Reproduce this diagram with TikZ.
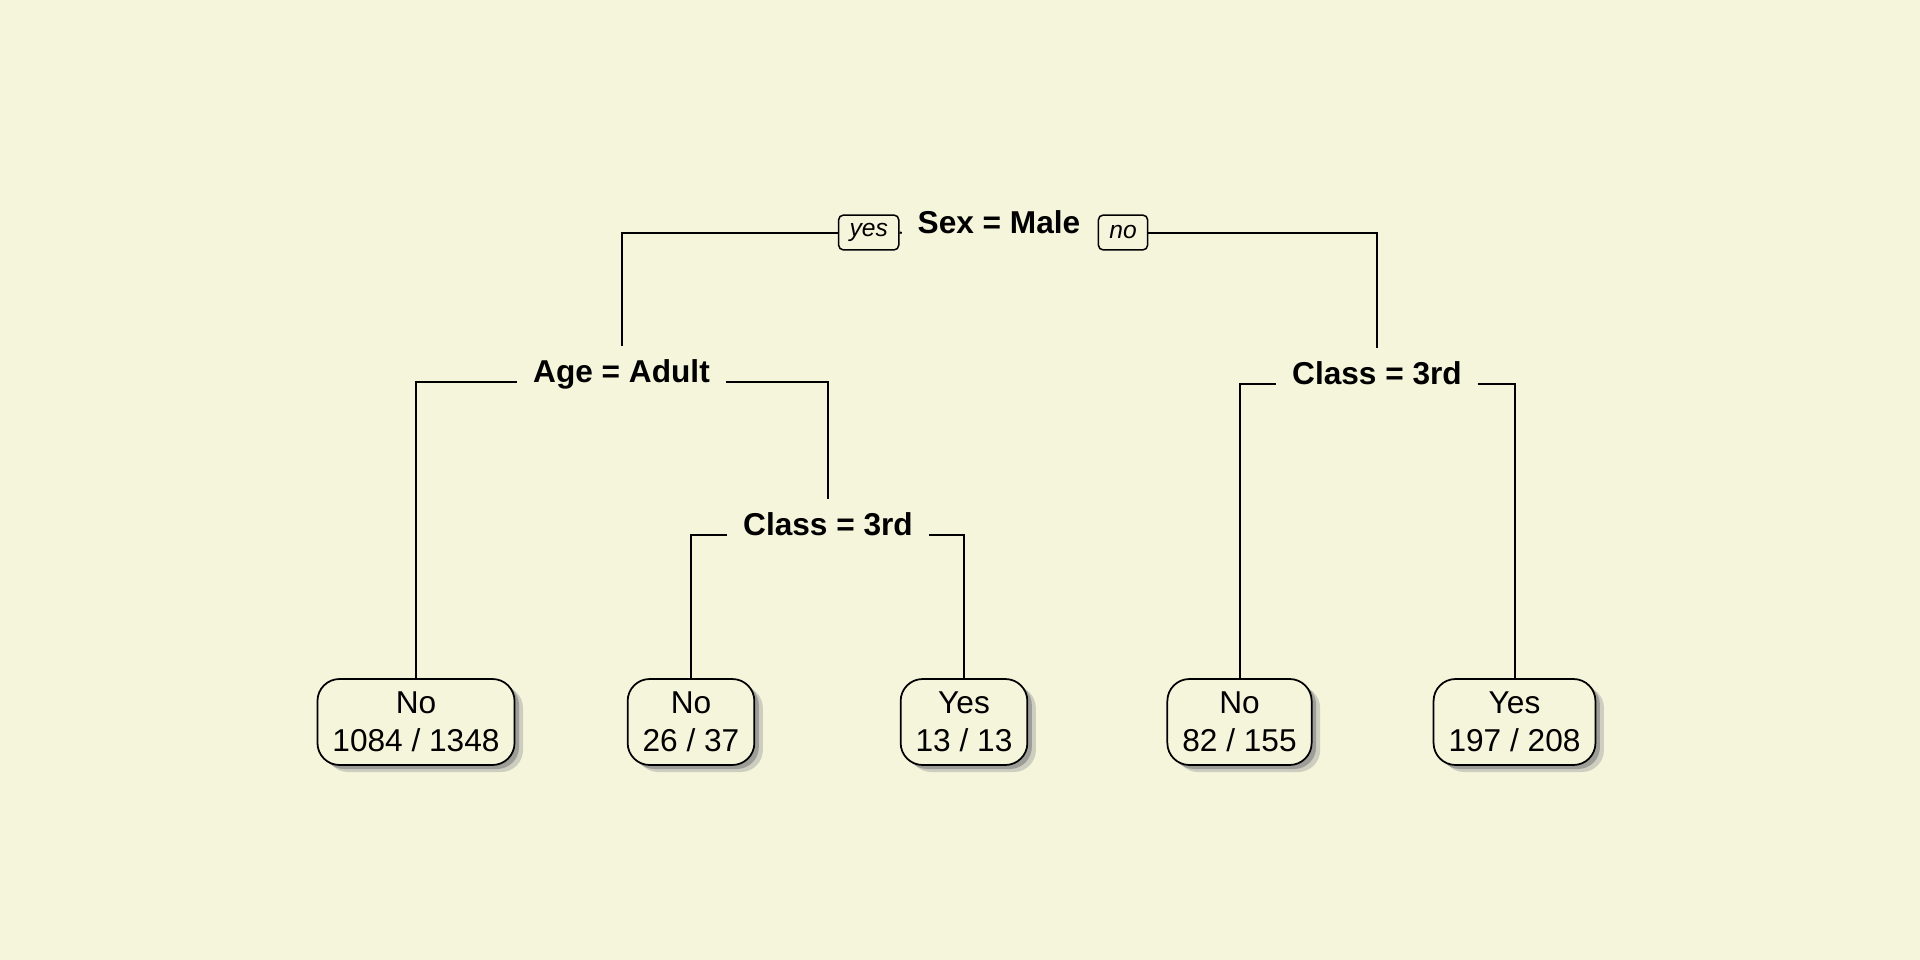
\documentclass[tikz,border=0pt]{standalone}
\usepackage{fontspec}
\setmainfont{Liberation Sans}
\usetikzlibrary{shadows}
\definecolor{treebg}{RGB}{245,245,220}
\tikzset{
  split/.style={anchor=base, inner xsep=0.3cm, inner ysep=0.25cm, font=\fontsize{18}{21}\selectfont\bfseries},
  leaf/.style={draw, line width=0.035cm, fill=treebg, rounded corners=0.44cm, align=center,
    inner xsep=0.3cm, minimum height=1.72cm, font=\fontsize{18}{21.5}\selectfont,
    drop shadow={shadow xshift=0.17cm, shadow yshift=-0.14cm, fill=black!35, opacity=0.5},
    drop shadow={shadow xshift=0.09cm, shadow yshift=-0.08cm, fill=black!50, opacity=0.6}},
  answer/.style={draw, line width=0.03cm, fill=treebg, rounded corners=0.1cm, inner xsep=0.22cm,
    minimum height=0.7cm, font=\fontsize{14}{16}\selectfont\itshape}
}
\begin{document}
\begin{tikzpicture}[x=0.02cm, y=-0.02cm, line width=0.04cm]
\fill[treebg] (0,0) rectangle (1920,960);
\node[split] (sex) at (999,233) {Sex = Male};
\node[split] (age) at (621.5,382) {Age = Adult}; \node[split] (cls) at (1377,384) {Class = 3rd};
\node[split] (kid) at (828,535) {Class = 3rd};
\node[leaf] (n1) at (416,722) {No\\1084 / 1348}; \node[leaf] (n2) at (691,722) {No\\26 / 37};
\node[leaf] (n3) at (964,722) {Yes\\13 / 13};    \node[leaf] (n4) at (1239.5,722) {No\\82 / 155};
\node[leaf] (n5) at (1514.5,722) {Yes\\197 / 208};
\node[answer] (yes) at (868.7,232.5) {yes}; \node[answer] (no) at (1123,232.5) {no};
\draw (sex.base west) -- (yes.east); \draw (yes.west) -| (age.north);
\draw (no.east) -| (cls.north);
\draw (age.base west) -| (n1.north); \draw (age.base east) -| (kid.north);
\draw (kid.base west) -| (n2.north); \draw (kid.base east) -| (n3.north);
\draw (cls.base west) -| (n4.north); \draw (cls.base east) -| (n5.north);
\end{tikzpicture}
\end{document}
